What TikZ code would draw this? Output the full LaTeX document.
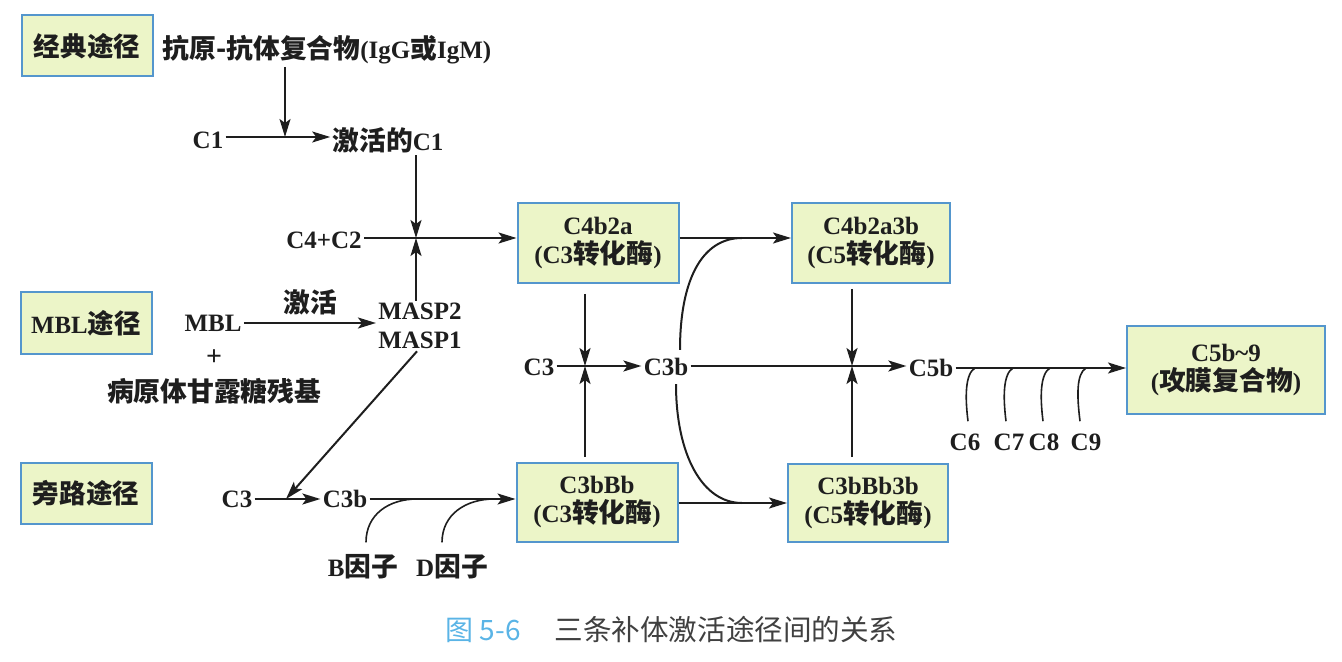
\documentclass[tikz,border=0pt]{standalone}
\usepackage{fontspec}
\setmainfont{Liberation Serif}
\newfontfamily\cjk{Noto Sans CJK SC}[Scale=1.07]
\newcommand\zh[1]{{\cjk #1}}
\usetikzlibrary{arrows.meta}
\definecolor{boxfill}{RGB}{236,245,200}
\definecolor{boxline}{RGB}{84,150,205}
\definecolor{capblue}{RGB}{90,180,230}
\definecolor{ink}{RGB}{30,30,30}
\begin{document}
\begin{tikzpicture}[x=0.5pt,y=-0.5pt,
  box/.style={draw=boxline, fill=boxfill, line width=1pt, inner sep=0pt, align=center, text=ink,
              font=\fontsize{12.5}{14.5}\selectfont\bfseries},
  pbox/.style={draw=boxline, fill=boxfill, line width=1pt, inner sep=0pt, text=ink,
              minimum width=65.5pt, minimum height=30.5pt, font=\fontsize{12.4}{14}\selectfont\bfseries},
  lbl/.style={inner sep=1pt, text=ink, font=\fontsize{12.5}{14.5}\selectfont\bfseries},
  arr/.style={-{Stealth[length=9pt,width=5.5pt,inset=2pt]}, line width=1pt, draw=ink},
  hook/.style={line width=0.8pt, draw=ink},
  curv/.style={line width=1pt, draw=ink}]
\useasboundingbox (0,0) rectangle (1342,662);

% pathway boxes
\node[pbox] (p1) at (87,46) {\zh{经典途径}};
\node[pbox] (p2) at (86,323) {MBL\zh{途径}};
\node[pbox] (p3) at (86,493) {\zh{旁路途径}};

% enzyme boxes
\node[box, minimum width=80.5pt, minimum height=40pt] (b1) at (598,243) {C4b2a\\(C3\zh{转化酶})};
\node[box, minimum width=79pt, minimum height=40pt] (b2) at (871,243) {C4b2a3b\\(C5\zh{转化酶})};
\node[box, minimum width=80.5pt, minimum height=39.5pt] (b3) at (597,502) {C3bBb\\(C3\zh{转化酶})};
\node[box, minimum width=80pt, minimum height=39pt] (b4) at (868,503) {C3bBb3b\\(C5\zh{转化酶})};
\node[box, minimum width=99pt, minimum height=44pt] (b5) at (1226,370) {C5b\textasciitilde 9\\(\zh{攻膜复合物})};

% text labels
\node[lbl] (ag) at (327,50) {\zh{抗原-抗体复合物}(IgG\zh{或}IgM)};
\node[lbl] (c1) at (208,140) {C1};
\node[lbl] (ac1) at (388,140) {\zh{激活的}C1};
\node[lbl] (c4c2) at (324,240) {C4+C2};
\node[lbl, align=center] (masp) at (420,326) {MASP2\\MASP1};
\node[lbl] (mbl) at (213,323) {MBL};
\node[lbl, font=\fontsize{14}{16}\selectfont\bfseries] (plus) at (214,358) {+};
\node[lbl] (sugar) at (214,391) {\zh{病原体甘露糖残基}};
\node[lbl] (jh) at (310,302) {\zh{激活}};
\node[lbl] (c3a) at (237,499) {C3};
\node[lbl] (c3ba) at (345,499) {C3b};
\node[lbl] (bf) at (363,567) {B\zh{因子}};
\node[lbl] (df) at (452,567) {D\zh{因子}};
\node[lbl] (c3m) at (539,367) {C3};
\node[lbl] (c3bm) at (666,367) {C3b};
\node[lbl] (c5b) at (931,368) {C5b};
\node[lbl] (c6) at (965,442) {C6};
\node[lbl] (c7) at (1009,442) {C7};
\node[lbl] (c8) at (1044,442) {C8};
\node[lbl] (c9) at (1086,442) {C9};

% caption
\node[inner sep=0pt, text=capblue, font=\fontsize{13.1}{15}\selectfont\cjk] (fig) at (483,630) {图 5-6};
\node[inner sep=0pt, text=ink!85, font=\fontsize{13.36}{15}\selectfont\cjk] (cap) at (726,630) {三条补体激活途径间的关系};

% junctions
\coordinate (j1) at (285,137);
\coordinate (j2) at (416,238);
\coordinate (j3) at (286,499);
\coordinate (j4) at (585,366);
\coordinate (j5) at (852,366);
\coordinate (hb) at (417,499);
\coordinate (hd) at (494,499);
\coordinate (ct) at (742,238);
\coordinate (cb) at (742,503);

% classical pathway
\draw[arr] (ag.south -| j1) -- (j1);
\draw[arr] (c1.east |- j1) -- (ac1.west |- j1);
\draw[arr] (ac1.south -| j2) -- (j2);
\draw[arr] (c4c2.east |- j2) -- (b1.west |- j2);
\draw[arr] (masp.north -| j2) -- (j2);

% MBL pathway
\draw[arr] (mbl.east) -- (mbl.east -| masp.west);
\draw[arr] ([xshift=-1.5pt]masp.south) -- (j3);

% alternative pathway
\draw[arr] (c3a.east |- j3) -- (c3ba.west |- j3);
\draw[arr] (c3ba.east |- j3) -- (b3.west |- j3);
\draw[hook] ([xshift=1.5pt,yshift=5pt]bf.north) .. controls +(0,-28) and +(-28,0) .. (hb);
\draw[hook] ([xshift=-5pt,yshift=5pt]df.north) .. controls +(0,-28) and +(-28,0) .. (hd);

% central
\draw[arr] ([yshift=-5pt]b1.south -| j4) -- (j4);
\draw[arr] ([yshift=2.5pt]b3.north -| j4) -- (j4);
\draw[arr] (c3m.east |- j4) -- (c3bm.west |- j4);
\draw[arr] (c3bm.east |- j4) -- (c5b.west |- j4);
\draw[arr] ([yshift=-2.5pt]b2.south -| j5) -- (j5);
\draw[arr] ([yshift=3pt]b4.north -| j5) -- (j5);
\draw[arr] ([yshift=2.5pt]b1.east) -- ([yshift=2.5pt]b1.east -| b2.west);
\draw[arr] (b3.east |- cb) -- (b4.west |- cb);
\draw[curv] ([xshift=7pt,yshift=3pt]c3bm.north) .. controls +(0,-70) and +(-40,0) .. (ct);
\draw[curv] ([xshift=5pt,yshift=-3pt]c3bm.south) .. controls +(0,70) and +(-40,0) .. (cb);

% terminal
\draw[arr] (c5b.east) -- (c5b.east -| b5.west);
\draw[hook] ([xshift=1.5pt,yshift=5pt]c6.north) .. controls +(-3,-24) and +(-10,6) .. ([xshift=5pt]c6.north |- c5b.east);
\draw[hook] ([xshift=-1.5pt,yshift=5pt]c7.north) .. controls +(-3,-24) and +(-10,6) .. ([xshift=2pt]c7.north |- c5b.east);
\draw[hook] ([xshift=-0.5pt,yshift=5pt]c8.north) .. controls +(-3,-24) and +(-10,6) .. ([xshift=3pt]c8.north |- c5b.east);
\draw[hook] ([xshift=-3pt,yshift=5pt]c9.north) .. controls +(-3,-24) and +(-10,6) .. ([xshift=0pt]c9.north |- c5b.east);
\end{tikzpicture}
\end{document}
